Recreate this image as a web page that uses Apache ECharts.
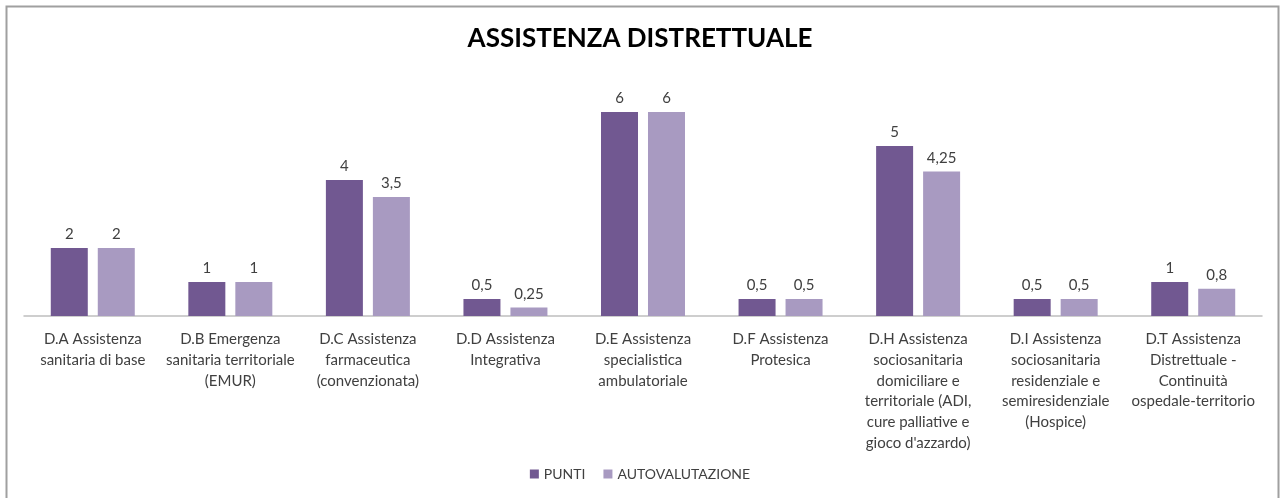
<!DOCTYPE html>
<html>
<head>
<meta charset="utf-8">
<title>Assistenza Distrettuale</title>
<script src="https://cdn.jsdelivr.net/npm/echarts@6/dist/echarts.min.js"></script>
<style>
  html, body { margin: 0; padding: 0; background: #fff; }
  #chart { width: 1280px; height: 498px; }
</style>
</head>
<body>
<div id="chart"></div>
<script>
// data
const categories = [
  "D.A Assistenza\nsanitaria di base",
  "D.B Emergenza\nsanitaria territoriale\n(EMUR)",
  "D.C Assistenza\nfarmaceutica\n(convenzionata)",
  "D.D Assistenza\nIntegrativa",
  "D.E Assistenza\nspecialistica\nambulatoriale",
  "D.F Assistenza\nProtesica",
  "D.H Assistenza\nsociosanitaria\ndomiciliare e\nterritoriale (ADI,\ncure palliative e\ngioco d'azzardo)",
  "D.I Assistenza\nsociosanitaria\nresidenziale e\nsemiresidenziale\n(Hospice)",
  "D.T Assistenza\nDistrettuale -\nContinuità\nospedale-territorio"
];
const punti = [2, 1, 4, 0.5, 6, 0.5, 5, 0.5, 1];
const autovalutazione = [2, 1, 3.5, 0.25, 6, 0.5, 4.25, 0.5, 0.8];

(function(){
  const FONT = "Lato, 'Open Sans', sans-serif";
  const TXT = "#404040";
  const fmtIt = (v)=> String(v).replace(".", ",");

  const chart = echarts.init(document.getElementById("chart"));

  const labelOpt = {
    show: true,
    position: "top",
    distance: 6,
    color: TXT,
    fontFamily: FONT,
    fontSize: 15,
    formatter: (p)=> fmtIt(p.value)
  };

  chart.setOption({
    animation: false,
    textStyle: { fontFamily: FONT },
    title: {
      text: "ASSISTENZA DISTRETTUALE",
      left: "center",
      top: 21,
      textStyle: { fontFamily: FONT, fontSize: 26, fontWeight: "bold", color: "#000" }
    },
    graphic: [{
      type: "rect",
      shape: { x: 6.5, y: 6.5, width: 1272, height: 500 },
      style: { fill: "none", stroke: "#a0a0a0", lineWidth: 2 },
      silent: true
    }],
    legend: {
      bottom: 12,
      left: "center",
      itemWidth: 9,
      itemHeight: 9,
      itemGap: 18,
      icon: "rect",
      textStyle: { color: TXT, fontFamily: FONT, fontSize: 14 },
      data: ["PUNTI", "AUTOVALUTAZIONE"]
    },
    grid: { left: 24, right: 18, top: 78, bottom: 182, containLabel: false },
    xAxis: {
      type: "category",
      data: categories,
      axisLine: { lineStyle: { color: "#bfbfbf", width: 1.5 } },
      axisTick: { show: false },
      axisLabel: {
        interval: 0,
        margin: 13,
        color: TXT,
        fontFamily: FONT,
        fontSize: 15,
        lineHeight: 20.7
      }
    },
    yAxis: {
      type: "value",
      min: 0,
      max: 7,
      show: false,
      splitLine: { show: false }
    },
    series: [
      {
        name: "PUNTI",
        type: "bar",
        data: punti,
        barWidth: 37,
        barGap: "27%",
        itemStyle: { color: "#715891" },
        label: labelOpt
      },
      {
        name: "AUTOVALUTAZIONE",
        type: "bar",
        data: autovalutazione,
        barWidth: 37,
        itemStyle: { color: "#a89ac1" },
        label: labelOpt
      }
    ]
  });

  window.addEventListener("resize", ()=>chart.resize());
})();
</script>
</body>
</html>
